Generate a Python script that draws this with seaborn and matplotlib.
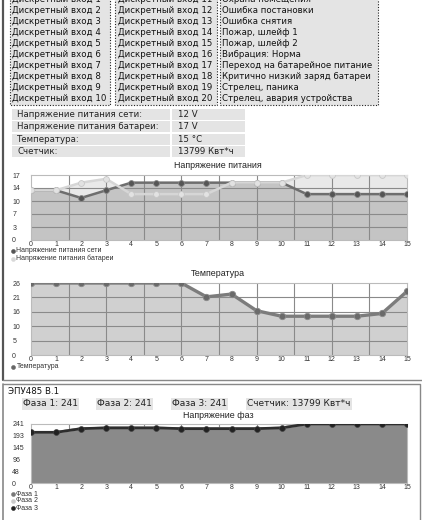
import numpy as np
import seaborn as sns
import matplotlib.pyplot as plt
from matplotlib.patches import Rectangle

# --- данные ---
hours = list(range(16))

inputs_col1 = ["Дискретный вход 1", "Дискретный вход 2", "Дискретный вход 3", "Дискретный вход 4",
               "Дискретный вход 5", "Дискретный вход 6", "Дискретный вход 7", "Дискретный вход 8",
               "Дискретный вход 9", "Дискретный вход 10"]
inputs_col2 = ["Дискретный вход 11", "Дискретный вход 12", "Дискретный вход 13", "Дискретный вход 14",
               "Дискретный вход 15", "Дискретный вход 16", "Дискретный вход 17", "Дискретный вход 18",
               "Дискретный вход 19", "Дискретный вход 20"]
events_col3 = ["Охрана помещения", "Ошибка постановки", "Ошибка снятия", "Пожар, шлейф 1",
               "Пожар, шлейф 2", "Вибрация: Норма", "Переход на батарейное питание",
               "Критично низкий заряд батареи", "Стрелец, паника", "Стрелец, авария устройства"]

info_labels = ["Напряжение питания сети:", "Напряжение питания батареи:", "Температура:", "Счетчик:"]
info_values = ["12 V", "17 V", "15 °C", "13799 Квт*ч"]

mains_v = [13, 13, 11, 13, 15, 15, 15, 15, 15, 15, 15, 12, 12, 12, 12, 12]
battery_v = [13, 13, 15, 16, 12, 12, 12, 12, 15, 15, 15, 17, 17, 17, 17, 17]
volt_ticks = [0, 3.4, 6.8, 10.2, 13.6, 17]
volt_labels = ["0", "3", "7", "10", "14", "17"]

temperature = [26, 26, 26, 26, 26, 26, 26, 21, 22, 16, 14, 14, 14, 14, 15, 23]
temp_ticks = [0, 5.2, 10.4, 15.6, 20.8, 26]
temp_labels = ["0", "5", "10", "16", "21", "26"]

phase1 = [207, 207, 222, 225, 225, 225, 222, 222, 222, 222, 225, 241, 241, 241, 241, 241]
phase2 = [207, 207, 222, 225, 225, 225, 222, 222, 222, 222, 225, 241, 241, 241, 241, 241]
phase3 = [207, 207, 222, 225, 225, 225, 222, 222, 222, 222, 225, 241, 241, 241, 241, 241]
phase_ticks = [0, 48.2, 96.4, 144.6, 192.8, 241]
phase_labels = ["0", "48", "96", "145", "193", "241"]
phase_info = ["Фаза 1: 241", "Фаза 2: 241", "Фаза 3: 241", "Счетчик: 13799 Квт*ч"]

W, H = 422, 520
UI_FONT = "DejaVu Sans"
CH_FONT = "Liberation Sans"
UI_SIZE = 6.2

sns.set_style("white")
fig = plt.figure(figsize=(W / 100, H / 100), dpi=100)

# фон в пикселях
bg = fig.add_axes([0, 0, 1, 1])
bg.set_xlim(0, W)
bg.set_ylim(H, 0)
bg.axis("off")

# рамки панелей
bg.plot([3, 3], [0, 380], color="#555555", lw=1.6)
bg.plot([3, W], [380, 380], color="#888888", lw=1)
bg.plot([3, 420, 420], [384, 384, H], color="#888888", lw=1)
bg.plot([3, 3], [384, H], color="#888888", lw=1.2)

# таблица дискретных входов
cols = [(10, 110, inputs_col1), (115, 217, inputs_col2), (220, 378, events_col3)]
for x0, x1, texts in cols:
    bg.add_patch(Rectangle((x0, -5), x1 - x0, 110, facecolor="#e4e4e4",
                           edgecolor="#222222", linestyle=(0, (1, 1.5)), lw=0.8))
    for i, t in enumerate(texts):
        bg.text(x0 + 2.5, -1 + i * 11.04, t, fontsize=UI_SIZE, family=UI_FONT,
                va="center", ha="left", color="#111111")

# таблица показаний
for i, (lab, val) in enumerate(zip(info_labels, info_values)):
    y = 114.3 + i * 12.5
    bg.add_patch(Rectangle((12, y - 5.5), 158, 11, facecolor="#e4e4e4", edgecolor="none"))
    bg.add_patch(Rectangle((172, y - 5.5), 73, 11, facecolor="#e4e4e4", edgecolor="none"))
    bg.text(17, y, lab, fontsize=UI_SIZE, family=UI_FONT, va="center", color="#222222")
    bg.text(178, y, val, fontsize=UI_SIZE, family=UI_FONT, va="center", color="#222222")

# панель ЭПУ
bg.text(8, 391, "ЭПУ485 В.1", fontsize=UI_SIZE, family=UI_FONT, va="center", color="#111111")
for x, t in zip([23, 97, 172, 247], phase_info):
    bg.text(x, 404, t, fontsize=UI_SIZE + 0.3, family=UI_FONT, va="center", color="#222222",
            bbox=dict(boxstyle="square,pad=0.15", facecolor="#e4e4e4", edgecolor="none"))


def chart_axes(top, bottom, title, ymax, ticks, labels):
    ax = fig.add_axes([31 / W, 1 - bottom / H, (407 - 31) / W, (bottom - top) / H])
    ax.set_xlim(0, 15)
    ax.set_ylim(0, ymax)
    ax.set_xticks(hours)
    ax.set_yticks(ticks)
    ax.set_yticklabels(labels)
    ax.tick_params(length=0, labelsize=5.0, colors="#333333", pad=0.8)
    ax.tick_params(axis="y", pad=13.5)
    for lab in ax.get_yticklabels():
        lab.set_ha("left")
        lab.set_family(CH_FONT)
    for lab in ax.get_xticklabels():
        lab.set_family(CH_FONT)
    for s in ax.spines.values():
        s.set_color("#bbbbbb")
        s.set_linewidth(0.8)
    fig.text(218 / W, 1 - (top - 9) / H, title, fontsize=6.4, family=CH_FONT,
             ha="center", va="center", color="#222222")
    for t in ticks[1:-1]:
        ax.axhline(t, color="#8a8a8a", lw=0.8, zorder=1)
    for xv in np.arange(1.5, 15, 1.5):
        ax.axvline(xv, color="#8a8a8a", lw=0.8, zorder=1)
    return ax


def legend_item(y, color, text):
    bg.scatter([13], [y], s=8, color=color, edgecolors=color, linewidths=0.4, zorder=5)
    bg.text(16.5, y, text, fontsize=5.0, family=CH_FONT, va="center", color="#333333")


# график напряжения питания
ax1 = chart_axes(175, 240, "Напряжение питания", 17, volt_ticks, volt_labels)
ax1.fill_between(hours, battery_v, color="#e9e9e9", zorder=0)
ax1.fill_between(hours, mains_v, color="#c4c4c4", zorder=0.5)
sns.lineplot(x=hours, y=mains_v, ax=ax1, color="#6e6e6e", lw=1.8, marker="o", markersize=4.2,
             markerfacecolor="#555555", markeredgecolor="#888888", markeredgewidth=0.6, zorder=3)
sns.lineplot(x=hours, y=battery_v, ax=ax1, color="#d6d6d6", lw=1.8, marker="o", markersize=4.2,
             markerfacecolor="#e2e2e2", markeredgecolor="#c8c8c8", markeredgewidth=0.6, zorder=4)
ax1.set_ylim(0, 17)
legend_item(251, "#555555", "Напряжение питания сети")
legend_item(258.5, "#d8d8d8", "Напряжение питания батареи")

# график температуры
ax2 = chart_axes(283, 355, "Температура", 26, temp_ticks, temp_labels)
ax2.fill_between(hours, temperature, color="#d0d0d0", zorder=0)
sns.lineplot(x=hours, y=temperature, ax=ax2, color="#7c7c7c", lw=2.4, marker="o", markersize=4.6,
             markerfacecolor="#6a6a6a", markeredgecolor="#8a8a8a", markeredgewidth=0.6, zorder=3)
ax2.set_ylim(0, 26)
legend_item(367, "#666666", "Температура")

# график напряжения фаз
ax3 = chart_axes(424, 483, "Напряжение фаз", 241, phase_ticks, phase_labels)
ax3.fill_between(hours, phase3, color="#8a8a8a", zorder=0)
sns.lineplot(x=hours, y=phase1, ax=ax3, color="#777777", lw=1.8, zorder=2)
sns.lineplot(x=hours, y=phase2, ax=ax3, color="#cccccc", lw=1.8, zorder=2.5)
sns.lineplot(x=hours, y=phase3, ax=ax3, color="#2e2e2e", lw=2.0, marker="o", markersize=4.2,
             markerfacecolor="#222222", markeredgecolor="#444444", markeredgewidth=0.5, zorder=3)
ax3.set_ylim(0, 241)
legend_item(494, "#777777", "Фаза 1")
legend_item(501, "#cccccc", "Фаза 2")
legend_item(508, "#222222", "Фаза 3")

plt.savefig("out.png", dpi=100)
